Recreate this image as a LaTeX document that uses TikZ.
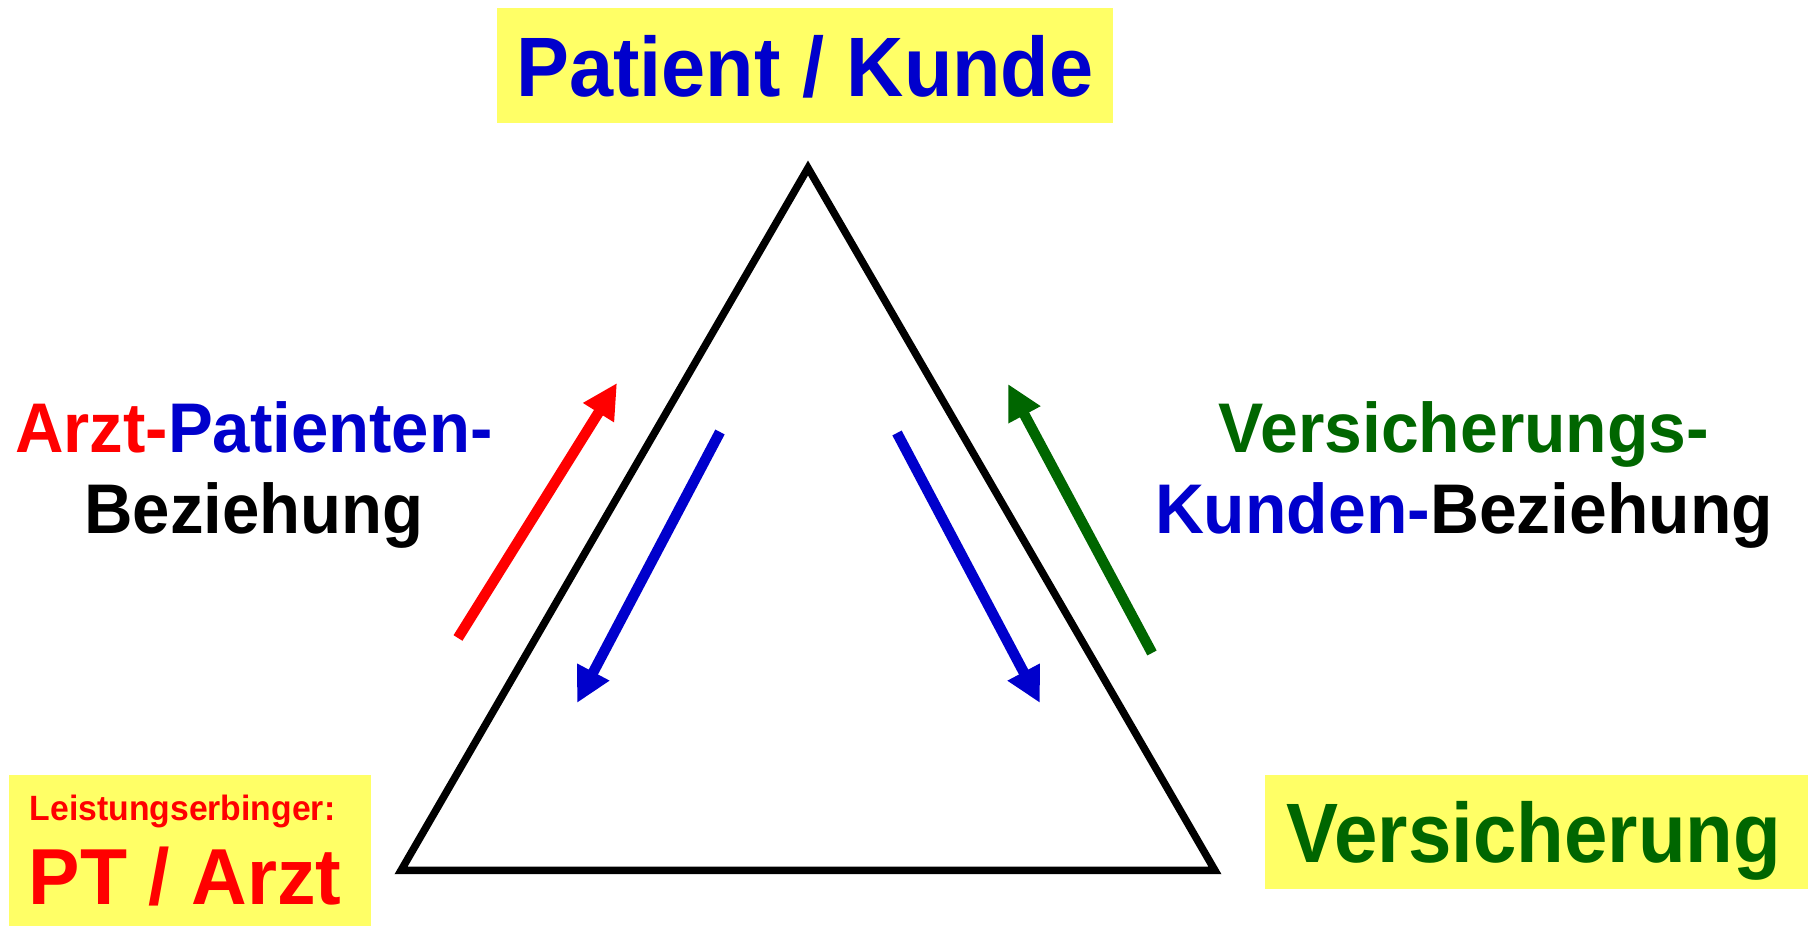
\documentclass[tikz,border=0pt]{standalone}
\usepackage{fontspec}
\setmainfont{Liberation Sans}
\usepackage{graphicx}
\usetikzlibrary{arrows.meta}

\definecolor{boxyellow}{RGB}{255,255,102}
\definecolor{kblue}{RGB}{0,0,204}
\definecolor{kred}{RGB}{255,0,0}
\definecolor{kgreen}{RGB}{0,102,0}

\newcommand{\squeeze}[2]{\scalebox{#1}[1]{#2}}

\begin{document}
\begin{tikzpicture}[
  font=\bfseries,
  party/.style={fill=boxyellow, inner sep=0pt},
  bigtxt/.style={font=\bfseries\fontsize{24}{27}\selectfont},
  reltxt/.style={font=\bfseries\fontsize{20}{23}\selectfont, align=center},
  arr/.style={-{Triangle[length=3.5mm, width=3.4mm]}, line width=1.05mm},
  side/.style={line width=0.75mm}
]
\useasboundingbox (0,0) rectangle (18.09,-9.28);

% ---- triangle ----
\coordinate (top)   at (8.08,-1.68);
\coordinate (left)  at (4.01,-8.705);
\coordinate (right) at (12.15,-8.705);
\draw[side] (top) -- (left) -- (right) -- cycle;

% ---- the three parties ----
\node[party, minimum width=6.16cm, minimum height=1.155cm, text depth=0pt,
      text=kblue, bigtxt] (patient) at (8.05,-0.6575)
  {\squeeze{0.94}{Patient / Kunde}};
\node[party, minimum width=3.62cm, minimum height=1.51cm, text=kred,
      align=center, font=\bfseries\fontsize{22.6}{23.9}\selectfont] (arzt) at (1.90,-8.505)
  {{\fontsize{10}{23.9}\selectfont\squeeze{0.96}{Leistungserbinger:}\hspace*{1.5mm}}\\
   \squeeze{0.97}{PT / Arzt}\hspace*{1mm}};
\node[party, anchor=west, minimum height=1.145cm, text width=4.99cm,
      inner xsep=2.2mm, align=left, text depth=0pt, text=kgreen, bigtxt] (kasse) at (12.64,-8.32)
  {\squeeze{0.925}{Versicherung}};

% ---- relation labels ----
\node[reltxt] (arztrel) at (2.54,-4.75)
  {\squeeze{0.955}{\textcolor{kred}{Arzt-}\textcolor{kblue}{Patienten-}}\\
   \squeeze{0.955}{Beziehung}};
\node[reltxt] (kasserel) at (14.64,-4.75)
  {\squeeze{0.965}{\textcolor{kgreen}{Versicherungs-}}\\
   \squeeze{0.965}{\textcolor{kblue}{Kunden-}Beziehung}};

% ---- arrow ends ----
\coordinate (redtail)   at (4.58,-6.38);
\coordinate (redtip)    at (6.17,-3.83);
\coordinate (bltail)    at (7.20,-4.32);
\coordinate (bltip)     at (5.77,-7.03);
\coordinate (brtail)    at (8.97,-4.33);
\coordinate (brtip)     at (10.40,-7.03);
\coordinate (greentail) at (11.52,-6.53);
\coordinate (greentip)  at (10.08,-3.84);

% ---- arrows ----
\draw[arr, kred]   (redtail) -- (redtip);
\draw[arr, kblue]  (bltail) -- (bltip);
\draw[arr, kblue]  (brtail) -- (brtip);
\draw[arr, kgreen] (greentail) -- (greentip);
\end{tikzpicture}
\end{document}
